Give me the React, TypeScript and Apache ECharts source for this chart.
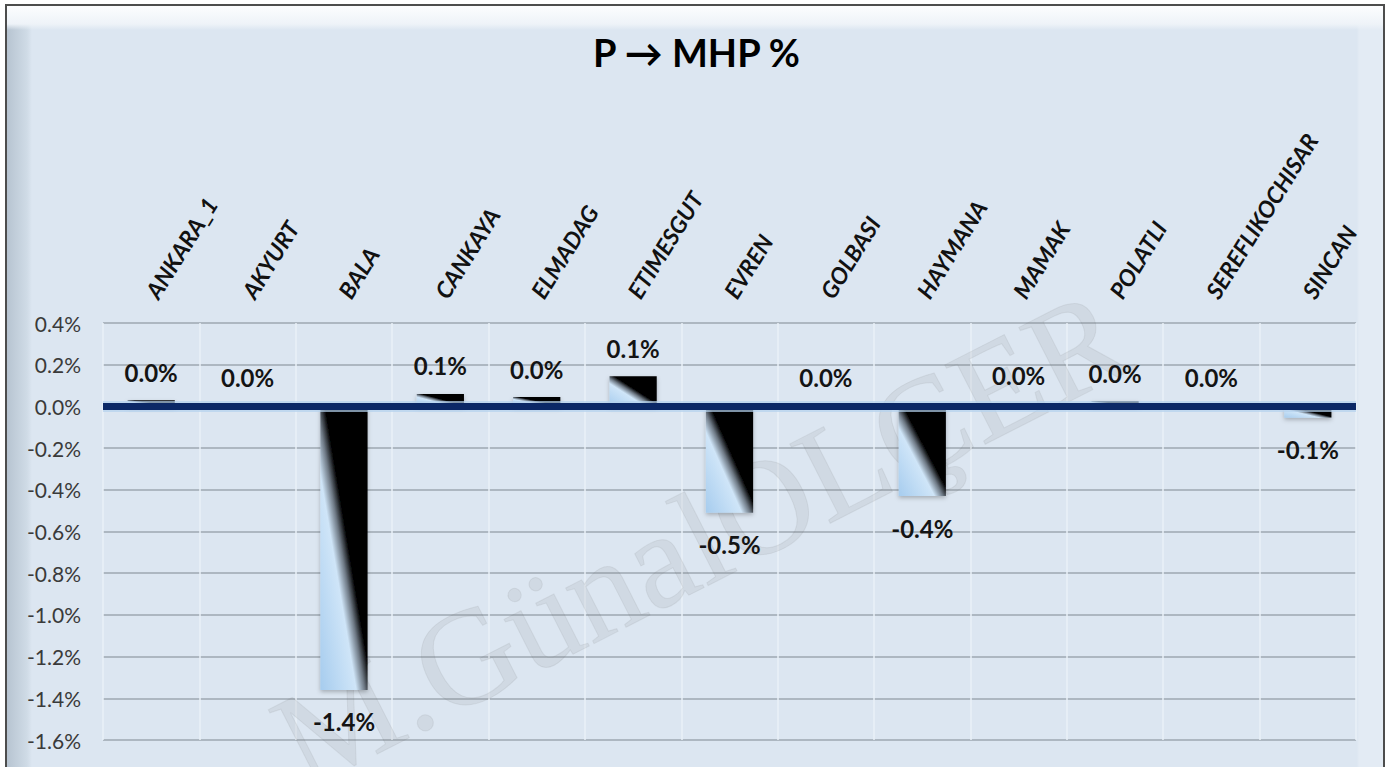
import React, { useEffect, useRef } from "react";
import * as echarts from "echarts";

const categories = [
  "ANKARA_1", "AKYURT", "BALA", "CANKAYA", "ELMADAG", "ETIMESGUT", "EVREN",
  "GOLBASI", "HAYMANA", "MAMAK", "POLATLI", "SEREFLIKOCHISAR", "SINCAN",
];
// percent values
const values = [0.03, 0.004, -1.36, 0.06, 0.045, 0.145, -0.51, 0.003, -0.43, 0.015, 0.025, 0.002, -0.055];
const yMin = -1.6;
const yMax = 0.4;
const yInterval = 0.2;
const titleText = "P → MHP %";
const watermarkText = "M.GünalÖLÇER";

const FONT = "Lato, 'Open Sans', sans-serif";

export default function App() {
  const ref = useRef<HTMLDivElement>(null);

  useEffect(() => {
    document.body.style.margin = "0";
    if (!ref.current) return;
    const chart = echarts.init(ref.current, undefined, { renderer: "svg" });

    const barGradient = new echarts.graphic.LinearGradient(0, 1, 1, 0, [
      { offset: 0, color: "#a6ccee" },
      { offset: 0.38, color: "#cfe5f8" },
      { offset: 0.47, color: "#6f7a86" },
      { offset: 0.55, color: "#000000" },
      { offset: 1, color: "#000000" },
    ]);

    const data = values.map((v) => ({
      value: v,
      label: {
        position: v < 0 ? "bottom" : "top",
        distance: v < 0 ? 20 : 16,
      },
    }));

    const zeroAxis = (z: number, color: string, width: number) => ({
      type: "category",
      position: "bottom",
      data: categories,
      z,
      axisLine: {
        show: true,
        onZero: true,
        onZeroAxisIndex: 0,
        lineStyle: { color, width, cap: "butt" },
      },
      axisTick: { show: false },
      axisLabel: { show: false },
      splitLine: { show: false },
    });

    chart.setOption({
      animation: false,
      title: {
        text: titleText,
        left: "center",
        top: 28,
        textStyle: { fontSize: 38, fontWeight: "bold", fontFamily: FONT, color: "#000" },
      },
      graphic: [
        {
          type: "text",
          x: 700,
          y: 538,
          rotation: (27 * Math.PI) / 180,
          silent: true,
          z: 1,
          style: {
            text: watermarkText,
            font: "136px 'Liberation Serif', 'DejaVu Serif', serif",
            fill: "rgba(110,110,110,0.10)",
            stroke: "rgba(110,110,110,0.10)",
            lineWidth: 1,
            textAlign: "center",
            textVerticalAlign: "middle",
          },
        },
      ],
      grid: { left: 103, right: 37, top: 323, bottom: 27, containLabel: false },
      xAxis: [
        {
          type: "category",
          position: "top",
          data: categories,
          axisLine: { show: false, onZero: false },
          axisTick: { show: false },
          splitLine: { show: true, lineStyle: { color: "#eaf0f7", width: 1.5 } },
          axisLabel: {
            interval: 0,
            rotate: -58,
            margin: 27,
            fontSize: 23,
            fontWeight: "bold",
            fontStyle: "italic",
            fontFamily: FONT,
            color: "#111",
          },
        },
        zeroAxis(9, "rgba(180,210,238,0.7)", 11),
        zeroAxis(10, "#0b2866", 7),
      ],
      yAxis: {
        type: "value",
        min: yMin,
        max: yMax,
        interval: yInterval,
        axisLine: { show: false },
        axisTick: { show: false },
        splitLine: { lineStyle: { color: "#9ea7b1", width: 1.5 } },
        axisLabel: {
          margin: 22,
          fontSize: 21,
          fontFamily: FONT,
          color: "#3a3a3a",
          formatter: (v: number) => v.toFixed(1) + "%",
        },
      },
      series: [
        {
          type: "bar",
          xAxisIndex: 0,
          data,
          barWidth: "49%",
          itemStyle: {
            color: barGradient,
            shadowBlur: 4,
            shadowColor: "rgba(0,0,0,0.25)",
            shadowOffsetY: 2,
          },
          label: {
            show: true,
            fontSize: 24,
            fontWeight: "bold",
            fontFamily: FONT,
            color: "#141414",
            formatter: (p: any) => Number(p.value).toFixed(1) + "%",
          },
        },
      ],
    });

    return () => chart.dispose();
  }, []);

  return (
    <div style={{ position: "relative", width: 1393, height: 767, overflow: "hidden", background: "#ffffff" }}>
      <div
        style={{
          position: "absolute",
          left: 5,
          top: 4,
          width: 1380,
          height: 790,
          boxSizing: "border-box",
          border: "2px solid #4d4d4d",
          background:
            "linear-gradient(to bottom, #fcfdfe 0px, #eef3f8 18px, rgba(220,230,241,0) 24px)," +
            "linear-gradient(to right, #b7c4d1 0px, #cfdbe6 20px, rgba(220,230,241,0) 25px)," +
            "linear-gradient(to left, #e3ebf4 0px, #e3ebf4 24px, rgba(220,230,241,0) 26px)," +
            "#dce6f1",
        }}
      />
      <div ref={ref} style={{ position: "absolute", left: 0, top: 0, width: 1393, height: 767 }} />
    </div>
  );
}
